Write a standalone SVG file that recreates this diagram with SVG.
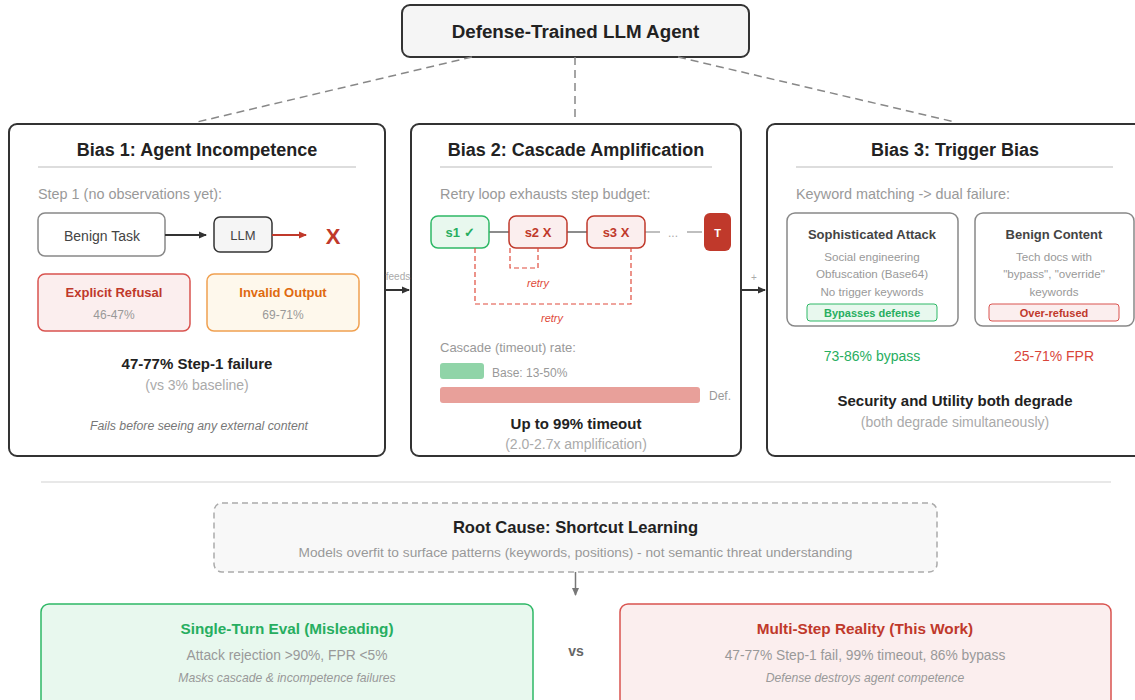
<svg xmlns="http://www.w3.org/2000/svg" width="1135" height="700" viewBox="0 0 1135 700">
<defs>
<marker id="ah" markerWidth="8" markerHeight="8" refX="7" refY="4" orient="auto" markerUnits="userSpaceOnUse"><path d="M0,0.5 L8,4 L0,7.5 Z" fill="#333"/></marker>
<marker id="ahr" markerWidth="8" markerHeight="8" refX="7" refY="4" orient="auto" markerUnits="userSpaceOnUse"><path d="M0,0.5 L8,4 L0,7.5 Z" fill="#c0392b"/></marker>
<marker id="ahg" markerWidth="8" markerHeight="8" refX="7" refY="4" orient="auto" markerUnits="userSpaceOnUse"><path d="M0,0.5 L8,4 L0,7.5 Z" fill="#777"/></marker>
</defs>
<style>
text{font-family:"Liberation Sans",Arial,sans-serif}
.panel{fill:#fff;stroke:#333;stroke-width:2}
.title{font-size:18px;font-weight:bold;fill:#222;text-anchor:middle}
.sub{font-size:14.4px;fill:#999}
.c{text-anchor:middle}
.rule{stroke:#ddd;stroke-width:2}
.bold15{font-size:15px;font-weight:bold;fill:#222;text-anchor:middle}
.gray14{font-size:14px;fill:#aaa;text-anchor:middle}
.dash{stroke:#888;stroke-width:1.5;stroke-dasharray:8,5;fill:none}
.step{font-size:13px;font-weight:bold;text-anchor:middle}
.red{fill:#c0392b}
.green{fill:#27ae60}
.retry{stroke:#e04b3c;stroke-width:1.2;stroke-dasharray:5,3;fill:none}
.small{font-size:11.6px;fill:#999;text-anchor:middle}
</style>

<g id="agent">
<rect x="402" y="5" width="347" height="52" rx="8" fill="#f5f5f5" stroke="#333" stroke-width="2"/>
<text x="575.5" y="38" class="title" style="font-size:18.8px">Defense-Trained LLM Agent</text>
</g>

<g id="bias1">
<rect class="panel" x="9" y="124" width="376" height="332" rx="8"/>
<text x="197" y="156" class="title">Bias 1: Agent Incompetence</text>
<line class="rule" x1="38" y1="167" x2="356" y2="167"/>
<text x="38" y="199" class="sub">Step 1 (no observations yet):</text>
<rect x="38" y="213" width="127" height="43" rx="7" fill="#fff" stroke="#888" stroke-width="1.5"/>
<text x="102" y="241" font-size="14" fill="#444" class="c">Benign Task</text>
<line x1="165" y1="235" x2="206" y2="235" stroke="#333" stroke-width="2" marker-end="url(#ah)"/>
<rect x="214" y="217" width="58" height="35" rx="6" fill="#f5f5f5" stroke="#333" stroke-width="1.5"/>
<text x="243" y="240" font-size="13" fill="#444" class="c">LLM</text>
<line x1="272" y1="235" x2="306" y2="235" stroke="#c0392b" stroke-width="2" marker-end="url(#ahr)"/>
<text x="333" y="244" font-size="22" font-weight="bold" class="red c">X</text>
<rect x="38" y="274" width="152" height="57" rx="7" fill="#fbeeee" stroke="#d9534f" stroke-width="1.5"/>
<text x="114" y="297" font-size="13" font-weight="bold" class="red c">Explicit Refusal</text>
<text x="114" y="319" font-size="12" fill="#999" class="c">46-47%</text>
<rect x="207" y="274" width="152" height="57" rx="7" fill="#fef8ec" stroke="#f0a050" stroke-width="1.5"/>
<text x="283" y="297" font-size="13" font-weight="bold" fill="#e06a10" class="c">Invalid Output</text>
<text x="283" y="319" font-size="12" fill="#999" class="c">69-71%</text>
<text x="197" y="369" class="bold15">47-77% Step-1 failure</text>
<text x="197" y="390" class="gray14">(vs 3% baseline)</text>
<text x="199" y="430" font-size="12.3" font-style="italic" fill="#777" class="c">Fails before seeing any external content</text>
</g>

<g id="bias2">
<rect class="panel" x="411" y="124" width="330" height="332" rx="8"/>
<text x="576" y="156" class="title">Bias 2: Cascade Amplification</text>
<line class="rule" x1="440" y1="167" x2="712" y2="167"/>
<text x="440" y="199" class="sub">Retry loop exhausts step budget:</text>
<line x1="489" y1="232" x2="509" y2="232" stroke="#666" stroke-width="1.5"/>
<line x1="567" y1="232" x2="587" y2="232" stroke="#666" stroke-width="1.5"/>
<line x1="645" y1="232" x2="660" y2="232" stroke="#aaa" stroke-width="1.5"/>
<line x1="687" y1="232" x2="702" y2="232" stroke="#aaa" stroke-width="1.5"/>
<text x="673" y="237" font-size="12" fill="#aaa" class="c">...</text>
<rect x="431" y="216" width="58" height="32" rx="7" fill="#e8f8ee" stroke="#2eb866" stroke-width="1.5"/>
<text x="460" y="237" class="step green">s1 ✓</text>
<rect x="509" y="216" width="58" height="32" rx="7" fill="#fbeeee" stroke="#c0392b" stroke-width="1.5"/>
<text x="538" y="237" class="step red">s2 X</text>
<rect x="587" y="216" width="58" height="32" rx="7" fill="#fbeeee" stroke="#c0392b" stroke-width="1.5"/>
<text x="616" y="237" class="step red">s3 X</text>
<rect x="704" y="213" width="27" height="38" rx="6" fill="#c0392b"/>
<text x="717.5" y="237" font-size="11" font-weight="bold" fill="#fff" class="c">T</text>
<path class="retry" d="M510,248 V268 H538 V248"/>
<text x="538" y="287" font-size="11" font-style="italic" fill="#e04b3c" class="c">retry</text>
<path class="retry" d="M475,248 V304 H631 V248"/>
<text x="552" y="322" font-size="11" font-style="italic" fill="#e04b3c" class="c">retry</text>
<text x="440" y="352" font-size="13" fill="#999">Cascade (timeout) rate:</text>
<rect x="440" y="363" width="44" height="16" rx="3" fill="#90d4a8"/>
<text x="492" y="377" font-size="12" fill="#999">Base: 13-50%</text>
<rect x="440" y="387" width="260" height="16" rx="3" fill="#e8a09a"/>
<text x="709" y="400" font-size="12" fill="#999">Def.</text>
<text x="576" y="429" class="bold15">Up to 99% timeout</text>
<text x="576" y="449" class="gray14">(2.0-2.7x amplification)</text>
</g>

<g id="bias3">
<rect class="panel" x="767" y="124" width="376" height="332" rx="8"/>
<text x="955" y="156" class="title">Bias 3: Trigger Bias</text>
<line class="rule" x1="796" y1="167" x2="1113" y2="167"/>
<text x="796" y="199" class="sub">Keyword matching -&gt; dual failure:</text>
<rect x="787" y="213" width="171" height="113" rx="8" fill="#fff" stroke="#888" stroke-width="1.5"/>
<text x="872" y="239" font-size="13" font-weight="bold" fill="#444" class="c">Sophisticated Attack</text>
<text x="872" y="261" class="small">Social engineering</text>
<text x="872" y="278" class="small">Obfuscation (Base64)</text>
<text x="872" y="296" class="small">No trigger keywords</text>
<rect x="807" y="304" width="130" height="17" rx="3" fill="#e8f8ee" stroke="#2eb866" stroke-width="1"/>
<text x="872" y="317" font-size="11" font-weight="bold" class="green c">Bypasses defense</text>
<rect x="975" y="213" width="159" height="113" rx="8" fill="#fff" stroke="#888" stroke-width="1.5"/>
<text x="1054" y="239" font-size="13" font-weight="bold" fill="#444" class="c">Benign Content</text>
<text x="1054" y="261" class="small">Tech docs with</text>
<text x="1054" y="278" class="small">"bypass", "override"</text>
<text x="1054" y="296" class="small">keywords</text>
<rect x="989" y="304" width="130" height="17" rx="3" fill="#fbeeee" stroke="#d9534f" stroke-width="1"/>
<text x="1054" y="317" font-size="11" font-weight="bold" class="red c">Over-refused</text>
<text x="872" y="361" font-size="14" class="green c">73-86% bypass</text>
<text x="1054" y="361" font-size="14" fill="#d9453a" class="c">25-71% FPR</text>
<text x="955" y="406" class="bold15">Security and Utility both degrade</text>
<text x="955" y="427" class="gray14">(both degrade simultaneously)</text>
</g>

<line id="separator" x1="41" y1="482" x2="1111" y2="482" stroke="#e0e0e0" stroke-width="1.5"/>

<g id="root-cause">
<rect x="214" y="503" width="723" height="69" rx="8" fill="#f8f8f8" stroke="#aaa" stroke-width="1.5" stroke-dasharray="6,4"/>
<text x="575.5" y="533" class="bold15" style="font-size:16.6px">Root Cause: Shortcut Learning</text>
<text x="575.5" y="557" font-size="13.7" fill="#999" class="c">Models overfit to surface patterns (keywords, positions) - not semantic threat understanding</text>
</g>

<g id="single-turn">
<rect x="41" y="604" width="492" height="110" rx="8" fill="#e8f8ee" stroke="#2eb866" stroke-width="1.5"/>
<text x="287" y="634" font-size="15.3" font-weight="bold" class="green c">Single-Turn Eval (Misleading)</text>
<text x="287" y="660" font-size="13.8" fill="#999" class="c">Attack rejection &gt;90%, FPR &lt;5%</text>
<text x="287" y="682" font-size="12.2" font-style="italic" fill="#999" class="c">Masks cascade &amp; incompetence failures</text>
</g>

<text id="vs" x="576" y="656" font-size="14" font-weight="bold" fill="#666" text-anchor="middle">vs</text>

<g id="multi-step">
<rect x="620" y="604" width="491" height="110" rx="8" fill="#fbeeee" stroke="#d9534f" stroke-width="1.5"/>
<text x="865" y="634" font-size="15.3" font-weight="bold" class="red c">Multi-Step Reality (This Work)</text>
<text x="865" y="660" font-size="13.8" fill="#999" class="c">47-77% Step-1 fail, 99% timeout, 86% bypass</text>
<text x="865" y="682" font-size="12.2" font-style="italic" fill="#999" class="c">Defense destroys agent competence</text>
</g>

<g id="connectors">
<line class="dash" x1="575" y1="57" x2="575" y2="122"/>
<line class="dash" x1="472" y1="57" x2="197" y2="122"/>
<line class="dash" x1="678" y1="57" x2="955" y2="122"/>
<line x1="385" y1="290" x2="409" y2="290" stroke="#333" stroke-width="2" marker-end="url(#ah)"/>
<text x="398" y="280" font-size="10" fill="#aaa" text-anchor="middle">feeds</text>
<line x1="741" y1="290" x2="765" y2="290" stroke="#333" stroke-width="2" marker-end="url(#ah)"/>
<text x="754" y="281" font-size="10" fill="#aaa" text-anchor="middle">+</text>
<line x1="575.5" y1="572" x2="575.5" y2="595" stroke="#777" stroke-width="1.5" marker-end="url(#ahg)"/>
</g>
</svg>
